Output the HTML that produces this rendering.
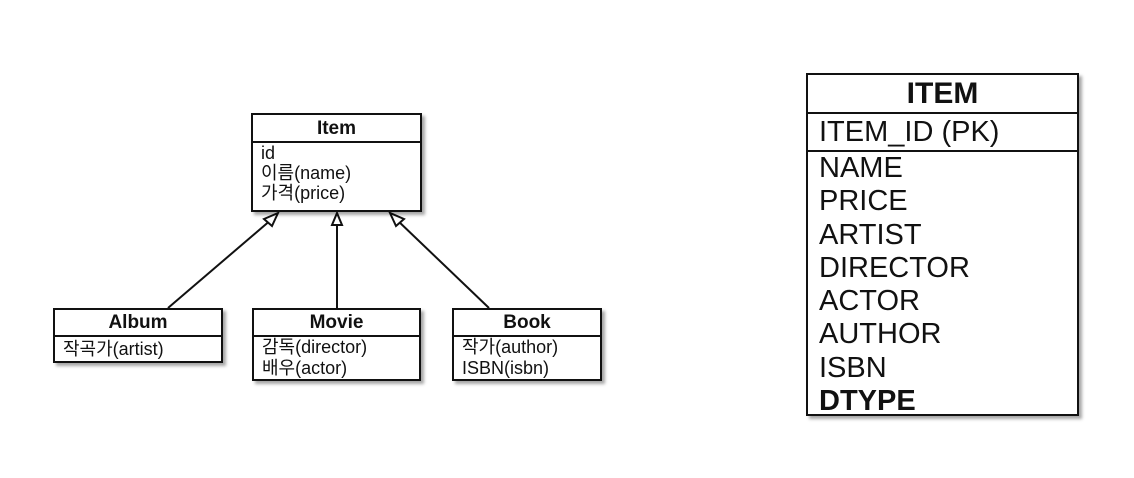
<!DOCTYPE html>
<html><head><meta charset="utf-8"><style>
body{margin:0;width:1134px;height:478px;background:#fff;position:relative;overflow:hidden;font-family:"Liberation Sans","Noto Sans CJK KR",sans-serif;color:#111}
.b{position:absolute;border:2px solid #111;box-sizing:border-box;box-shadow:3px 3px 3px rgba(0,0,0,.35);background:#fff}
.h{font-weight:bold;text-align:center;border-bottom:2px solid #111;box-sizing:border-box}
.r{padding-left:8px;white-space:nowrap}
</style></head><body>
<svg style="position:absolute;left:0;top:0" width="1134" height="478">
<g stroke="#111" stroke-width="2" fill="#fff">
<line x1="168" y1="308" x2="272" y2="219"/>
<line x1="337" y1="308" x2="337" y2="224"/>
<line x1="489" y1="308" x2="396" y2="219"/>
<polygon points="278,213 264,219 272,226"/>
<polygon points="337,213 332,225 342,225"/>
<polygon points="390,213 396,226 404,219"/>
</g></svg>
<div class="b" style="left:251px;top:113px;width:171px;height:99px">
<div class="h" style="height:28px;line-height:27px;font-size:19px">Item</div>
<div class="r" style="font-size:18px;line-height:20px">id<br>이름(name)<br>가격(price)</div></div>
<div class="b" style="left:53px;top:308px;width:170px;height:55px">
<div class="h" style="height:27px;line-height:26px;font-size:19px">Album</div>
<div class="r" style="font-size:18px;line-height:24px">작곡가(artist)</div></div>
<div class="b" style="left:252px;top:308px;width:169px;height:73px">
<div class="h" style="height:27px;line-height:26px;font-size:19px">Movie</div>
<div class="r" style="font-size:18px;line-height:21px">감독(director)<br>배우(actor)</div></div>
<div class="b" style="left:452px;top:308px;width:150px;height:73px">
<div class="h" style="height:27px;line-height:26px;font-size:19px">Book</div>
<div class="r" style="font-size:18px;line-height:21px">작가(author)<br>ISBN(isbn)</div></div>
<div class="b" style="left:806px;top:73px;width:273px;height:343px">
<div class="h" style="height:39px;line-height:37px;font-size:30px">ITEM</div>
<div class="h" style="height:38px;line-height:36px;font-size:29px;font-weight:normal;text-align:left;padding-left:11px">ITEM_ID (PK)</div>
<div style="padding-left:11px;font-size:29px;line-height:33.3px;white-space:nowrap">NAME<br>PRICE<br>ARTIST<br>DIRECTOR<br>ACTOR<br>AUTHOR<br>ISBN<br><b>DTYPE</b></div></div>
</body></html>
